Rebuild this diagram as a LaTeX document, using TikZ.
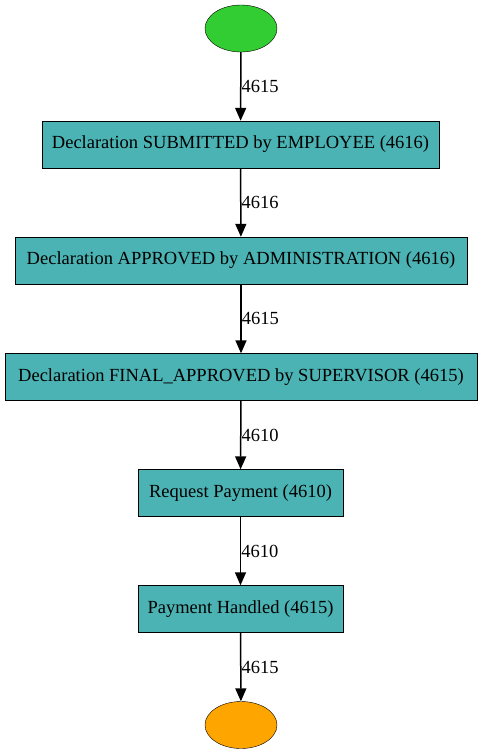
\documentclass[tikz,border=0pt]{standalone}
\usepackage{fontspec}
\setmainfont{Liberation Serif}
\usetikzlibrary{arrows.meta,shapes.geometric}

\definecolor{boxteal}{RGB}{75,179,179}
\definecolor{startgreen}{RGB}{50,205,50}
\definecolor{endorange}{RGB}{255,165,0}

\tikzset{
  activity/.style={draw, fill=boxteal, minimum height=47pt, inner sep=0pt, font=\fontsize{18.5}{20}\selectfont},
  terminal/.style={draw, ellipse, minimum width=72pt, minimum height=47pt, inner sep=0pt},
  flow/.style={-{Triangle[width=11pt,length=13pt]}, line width=1.5pt},
  count/.style={right, midway, inner sep=0pt, font=\fontsize{18.5}{20}\selectfont}
}

\begin{document}
\begin{tikzpicture}[x=1pt, y=-1pt]
\useasboundingbox (0,0) rectangle (483,755);

\node[terminal, fill=startgreen] (start) at (241,28.5) {};
\node[activity, minimum width=397pt] (submitted) at (240.5,144.5) {Declaration SUBMITTED by EMPLOYEE (4616)};
\node[activity, minimum width=452pt] (approved) at (241,260.5) {Declaration APPROVED by ADMINISTRATION (4616)};
\node[activity, minimum width=472pt] (final) at (241,377) {Declaration FINAL\_APPROVED by SUPERVISOR (4615)};
\node[activity, minimum width=205pt] (request) at (240.5,493) {Request Payment (4610)};
\node[activity, minimum width=205pt] (handled) at (240.5,609) {Payment Handled (4615)};
\node[terminal, fill=endorange] (end) at (241,725) {};

% edges with case counts
\draw[flow] (start) -- node[count] {4615} (submitted);
\draw[flow] (submitted) -- node[count] {4616} (approved);
\draw[flow] (approved) -- node[count] {4615} (final);
\draw[flow] (final) -- node[count] {4610} (request);
\draw[flow] (request) -- node[count] {4610} (handled);
\draw[flow] (handled) -- node[count] {4615} (end);

\end{tikzpicture}
\end{document}
